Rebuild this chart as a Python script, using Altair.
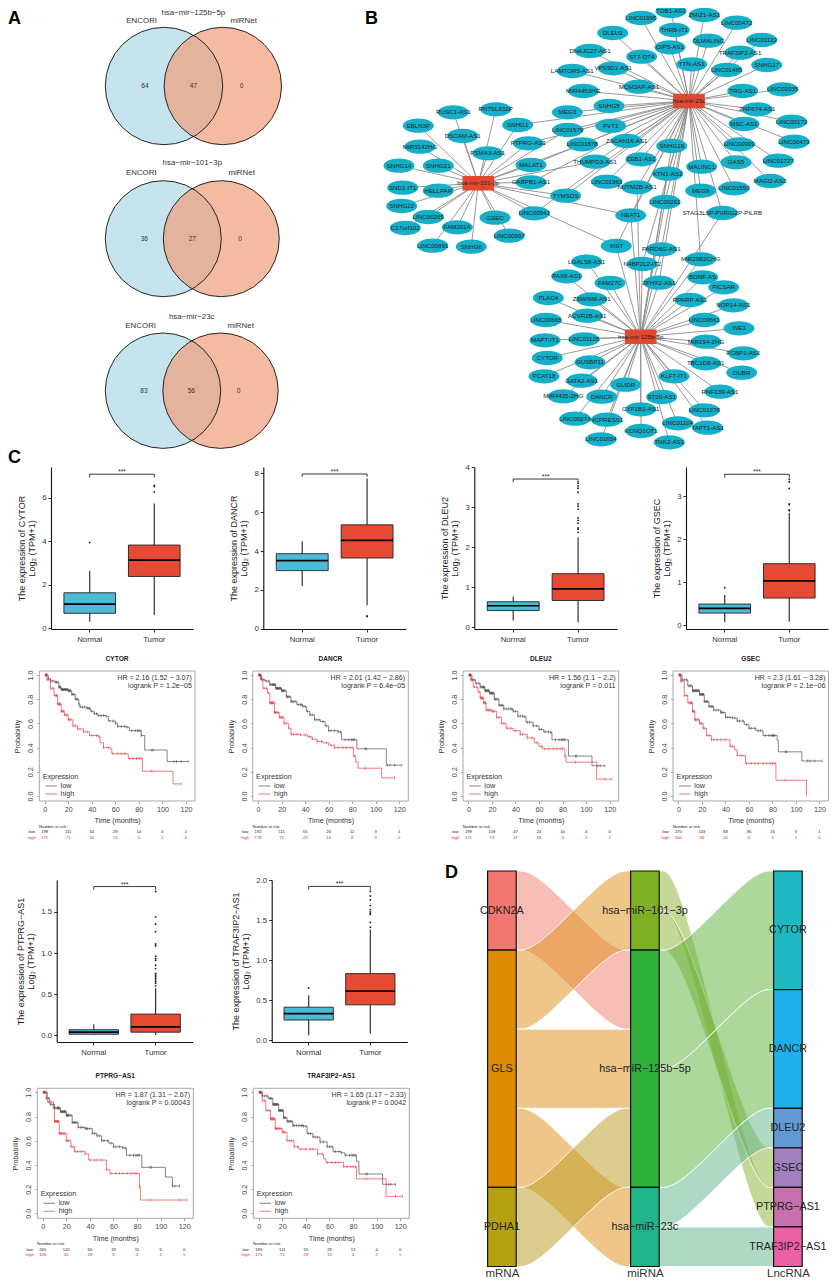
import altair as alt
import pandas as pd

W, H = 821, 1272
FONT = "Liberation Sans"
M = "\u2212"

# ---------- panel A ----------
VENN_TITLES = [f"hsa{M}mir{M}125b{M}5p", f"hsa{M}mir{M}101{M}3p", f"hsa{M}mir{M}23c"]
VENN_TITLE_X = [193.3, 192.3, 191.7]
VENN_TITLE_Y = [13, 163.3, 316.7]
VENN_SET_Y = [21, 173, 326]
VENN_ENCORI_X = [141.7, 141.3, 140.7]
VENN_MIRNET_X = [243.7, 241.7, 240.7]
VENN_CY = [86, 238.7, 390.7]
VENN_C1 = [164, 163.3, 163]
VENN_C2 = [222.8, 221.3, 220.5]
VENN_D = [117.4, 116, 115.4]
VENN_COUNTS = [[64, 47, 0], [36, 27, 0], [83, 56, 0]]
VENN_COUNT_X = [[145, 193.3, 241.7], [144.3, 192.3, 240], [144, 191.3, 238.7]]

# ---------- panel B ----------
NODE_NAMES = ["LINC01995","TOB1-AS1","ZMIZ1-AS1","LINC00472","DLEU2","THRB-IT1","OLMALINC","LINC01122","DNAJC27-AS1","OIP5-AS1",
"TRAF3IP2-AS1","ST7-OT4","SNHG17","TTN-AS1","LINC01485","LAMTOR5-AS1","VPS9D1-AS1","MCM3AP-AS1","MIR4453HG","TRG-AS1",
"LINC02035","RUSC1-AS1","RN7SL832P","MEG3","SNHG5","ZNF674-AS1","SNHG1","EBLN3P","LINC01579","PVT1",
"MSC-AS1","LINC00173","DSCAM-AS1","MIR3142HG","PTPRG-AS1","LINC01878","ZSCAN16-AS1","SNHG16","LINC00909","LINC00473",
"PSMA3-AS1","THUMPD3-AS1","ZEB1-AS1","GAS5","LINC01727","MALINC1","SNHG14","SNHG21","MALAT1","GABPB1-AS1",
"SND1-IT1","HELLPAR","TYMSOS","SNHG22","LINC00943","LINC00265","GSEC","C17orf102","FAM201A","LINC00997",
"LINC00891","SNHG6","LINC01963","KTN1-AS1","NUTM2B-AS1","MEG8","LINC01550","MAGI2-AS3","LINC00261","STAG3L5P-PVRIG2P-PILRB",
"NEAT1","XIST","PARD6G-AS1","MIR29B2CHG","LGALS8-AS1","N4BP2L2-IT2","BDNF-AS","ZFHX2-AS1","FAM27C","PICSAR",
"PAX8-AS1","PLAC4","ZSWIM8-AS1","RPARP-AS1","NOP14-AS1","ACVR2B-AS1","LINC00665","LINC00661","INE1","LINC01128",
"MAPT-IT1","MIR194-2HG","PCBP1-AS1","CYTOR","GUSBP11","TBC1D8-AS1","DUBR","PCAT18","KLF7-IT1","GATA2-AS1",
"GLIDR","RNF139-AS1","MIR4435-2HG","DANCR","ST20-AS1","CYP1B1-AS1","LINC01278","LINC00273","NCPRESS1","LINC01104",
"TAPT1-AS1","KCNQ1OT1","LINC01654","TNK2-AS1"]
NODE_X = [641,671,704.3,736.7,612.7,674.3,708.3,761.7,590,670,
740,641.7,766.7,691.7,726.7,572.3,613.3,639,583.3,742.7,
782.7,453.3,495.7,567.3,609,757.3,517.7,418.3,567.7,610.7,
744,791.7,462.7,420,528.3,582.3,626.7,671.7,739.3,794,
487.7,595,641,736,778.3,701.7,399,438.3,531,531,
402.7,438.3,565.7,401.7,534.3,428.3,495,405.3,457.3,509.3,
432.7,471.3,606.7,667.7,637,700.7,734,770,665,722.3,
630.7,616.3,661.3,700.7,586.7,642.3,702.7,659,610,723.7,
566.7,548.3,591.7,690,733.3,587.3,546,704.3,739,584,
545,706,743.3,547.3,590,705.7,741.7,544,674,581.7,
625.7,720,563.3,601.7,661.7,640.7,704.3,575,606.7,677.7,
707.7,641,601,669.3]
NODE_Y = [18,11,15,22.7,33,30,40.7,40,51,47.3,
52.7,56.7,65,64.3,70,71,68.3,86.7,91,91,
89.3,112.3,109.3,112.3,106,109.3,125,125.7,130,126,
124,121.7,136,146.7,143.3,144.3,141,146,144.3,141.7,
153.3,161.7,159.3,162.3,160.7,166.7,165.7,165.7,165,182.3,
187.7,190.7,195.7,206,213.3,217,217.7,228,227.3,235.7,
245.7,246.7,181.7,173.7,187.3,190.7,188.3,181,202,213,
215.3,246,249.3,259.3,261.7,264,277.3,282.7,283,287.3,
276.3,298,299.3,300,305.3,315.7,320,320,328.3,339.3,
340.3,341.7,353.3,358,362.3,363.3,372.7,376.3,376.3,380.7,
384.7,391.7,396.3,396.7,397,409.3,410.3,418.7,419.7,423.3,
427.7,431,439.3,442.3]
HUB_NAMES = [f"hsa-mir-23c", f"hsa-mir-101-3p", f"hsa-mir-125b-5p"]
HUB_X = [689, 478.3, 640.7]
HUB_Y = [101, 183.3, 336.7]
EDGES_23C = ["LINC01995","TOB1-AS1","ZMIZ1-AS1","LINC00472","DLEU2","THRB-IT1","OLMALINC","LINC01122","DNAJC27-AS1","OIP5-AS1",
"TRAF3IP2-AS1","ST7-OT4","SNHG17","TTN-AS1","LINC01485","LAMTOR5-AS1","VPS9D1-AS1","MCM3AP-AS1","MIR4453HG","TRG-AS1",
"LINC02035","MEG3","SNHG5","ZNF674-AS1","SNHG1","LINC01579","PVT1","MSC-AS1","LINC00173","PTPRG-AS1","LINC01878","ZSCAN16-AS1",
"SNHG16","LINC00909","LINC00473","THUMPD3-AS1","ZEB1-AS1","GAS5","LINC01727","MALINC1","MALAT1","GABPB1-AS1","TYMSOS","LINC01963",
"KTN1-AS1","NUTM2B-AS1","MEG8","LINC01550","MAGI2-AS3","LINC00261","STAG3L5P-PVRIG2P-PILRB","NEAT1","XIST","PARD6G-AS1",
"MIR29B2CHG","N4BP2L2-IT2","ZFHX2-AS1","LINC00943"]
EDGES_101 = ["RUSC1-AS1","RN7SL832P","SNHG1","EBLN3P","DSCAM-AS1","MIR3142HG","PTPRG-AS1","PSMA3-AS1","SNHG14","SNHG21","MALAT1",
"GABPB1-AS1","SND1-IT1","HELLPAR","TYMSOS","SNHG22","LINC00943","LINC00265","GSEC","C17orf102","FAM201A","LINC00997","LINC00891",
"SNHG6","THUMPD3-AS1","LINC01878","NEAT1","XIST","LINC01579"]
EDGES_125B = ["LGALS8-AS1","PAX8-AS1","FAM27C","ZFHX2-AS1","BDNF-AS","PICSAR","PLAC4","ZSWIM8-AS1","RPARP-AS1","NOP14-AS1","ACVR2B-AS1",
"LINC00665","LINC00661","INE1","LINC01128","MAPT-IT1","MIR194-2HG","PCBP1-AS1","CYTOR","GUSBP11","TBC1D8-AS1","DUBR","PCAT18","KLF7-IT1",
"GATA2-AS1","GLIDR","RNF139-AS1","MIR4435-2HG","DANCR","ST20-AS1","CYP1B1-AS1","LINC01278","LINC00273","NCPRESS1","LINC01104","TAPT1-AS1",
"KCNQ1OT1","LINC01654","TNK2-AS1","NEAT1","XIST","MIR29B2CHG","STAG3L5P-PVRIG2P-PILRB","PARD6G-AS1","N4BP2L2-IT2","LINC00261","SNHG16",
"KTN1-AS1","NUTM2B-AS1"]

# ---------- panel C: boxplots ----------
GROUPS = ["Normal", "Tumor"]
BOX_GENES = ["CYTOR", "DANCR", "DLEU2", "GSEC", f"PTPRG{M}AS1", f"TRAF3IP2{M}AS1"]
BOX_LOW = [[0.3, 0.61], [2.19, 1.2], [0.17, 0.13], [0.07, 0.08], [0.0, 0.0], [0.06, 0.08]]
BOX_Q1 = [[0.69, 2.38], [2.99, 3.64], [0.42, 0.67], [0.28, 0.63], [0.01, 0.035], [0.25, 0.44]]
BOX_MED = [[1.11, 3.13], [3.5, 4.55], [0.54, 0.96], [0.39, 1.03], [0.035, 0.10], [0.33, 0.61]]
BOX_Q3 = [[1.63, 3.82], [3.86, 5.35], [0.64, 1.34], [0.49, 1.43], [0.065, 0.255], [0.41, 0.83]]
BOX_HIGH = [[2.63, 5.73], [4.5, 7.74], [0.77, 2.25], [0.7, 2.61], [0.13, 0.57], [0.56, 1.38]]
OUT_NORMAL = [[3.94], [], [], [0.87], [], [0.65]]
OUT_TUMOR = [[6.26, 6.5, 6.56], [0.62, 0.65],
    [2.37,2.45,2.48,2.6,2.67,2.73,2.95,3.02,3.08,3.37,3.47,3.53,3.6],
    [2.66,2.68,2.8,2.82,3.18,3.33,3.39],
    [0.6,0.63,0.65,0.67,0.69,0.71,0.73,0.75,0.81,0.85,0.91,0.93,0.96,1.085,1.11,1.26,1.35,1.44,1.75],
    [1.41,1.47,1.57,1.58,1.6,1.63,1.68,1.75,1.8,1.86]]
BRACKET_TOP = [7.07, 7.97, 3.7, 3.51, 1.81, 1.92]
BRACKET_LOW = [6.92, 7.83, 3.62, 3.43, 1.77, 1.88]
BOX_DOMAIN = [[-0.03, 7.4], [-0.02, 8.33], [-0.04, 4.0], [-0.09, 3.68], [-0.085, 1.89], [-0.025, 2.0]]
BOX_TICKS = [[0,2,4,6], [0,2,4,6,8], [0,1,2,3,4], [0,1,2,3], [0,0.5,1,1.5], [0,0.5,1,1.5,2]]
BOX_FORMAT = ["d", "d", "d", "d", ".1f", ".1f"]
BOX_FRAME = [(51,193,467,629), (263.3,406,467,629), (474.3,617,467,629), (686,828,467,629), (56.7,192.7,880,1042), (271.7,407.3,880,1042)]

# ---------- panel C: survival ----------
KM_GENES = BOX_GENES
KM_FRAME = [(39.3,195,671,801), (252.7,408.3,671,801), (463,618.7,671,801), (673,828.5,671,801), (37.3,193.3,1088.3,1218.3), (253.3,409.3,1088.3,1218.3)]
HR_TEXT = [f"HR = 2.16 (1.52 {M} 3.07)", f"HR = 2.01 (1.42 {M} 2.86)", f"HR = 1.56 (1.1 {M} 2.2)", f"HR = 2.3 (1.61 {M} 3.28)", f"HR = 1.87 (1.31 {M} 2.67)", f"HR = 1.65 (1.17 {M} 2.33)"]
P_TEXT = ["logrank P = 1.2e\u221205", "logrank P = 6.4e\u221205", "logrank P = 0.011", "logrank P = 2.1e\u221206", "logrank P = 0.00043", "logrank P = 0.0042"]
RISK_TIMES = [0, 20, 40, 60, 80, 100, 120]
RISK_LOW = [[198,111,54,29,14,4,1],[192,111,55,26,11,3,1],[199,109,47,24,10,4,0],[270,143,68,36,16,5,1],[265,142,66,33,15,5,0],[195,111,55,29,13,4,0]]
RISK_HIGH = [[172,71,30,13,5,2,0],[178,71,29,16,8,3,0],[171,73,37,18,9,2,1],[100,39,16,6,3,1,0],[105,40,18,9,4,1,1],[175,71,29,13,6,2,1]]
KM_LOW = [
 [(0,1),(3,.97),(5,.95),(9,.94),(12,.90),(14,.88),(20,.87),(23,.84),(26,.80),(29,.76),(30,.735),(36,.725),(39,.70),(42,.68),(45,.665),(52,.66),(54,.62),(60,.60),(62,.575),(69,.57),(72,.54),(80,.54),(82,.50),(85,.38),(104,.285),(122,.285)],
 [(0,1),(3,.96),(6,.95),(10,.92),(15,.89),(20,.87),(24,.82),(28,.78),(33,.755),(38,.74),(41,.70),(44,.67),(48,.63),(53,.615),(57,.58),(60,.54),(68,.53),(71,.465),(84,.39),(109,.255),(122,.255)],
 [(0,1),(3,.96),(6,.93),(10,.90),(14,.87),(18,.85),(22,.80),(26,.75),(30,.72),(38,.70),(42,.66),(47,.655),(49,.61),(55,.58),(60,.55),(64,.53),(70,.525),(71,.465),(85,.33),(105,.25),(116,.25)],
 [(0,1),(3,.96),(8,.91),(12,.87),(18,.84),(22,.78),(26,.74),(30,.71),(36,.69),(40,.65),(46,.645),(50,.62),(56,.59),(60,.56),(66,.54),(72,.50),(84,.46),(85,.365),(105,.29),(122,.29)],
 [(0,1),(3,.95),(6,.90),(10,.87),(15,.84),(20,.81),(25,.75),(30,.71),(36,.70),(42,.66),(46,.64),(50,.60),(56,.58),(60,.55),(68,.54),(71,.48),(84,.38),(104,.30),(110,.225),(116,.225)],
 [(0,1),(3,.97),(8,.95),(12,.90),(17,.85),(21,.79),(24,.76),(29,.725),(38,.72),(41,.66),(46,.63),(52,.59),(58,.55),(63,.51),(70,.50),(73,.48),(83,.43),(85,.325),(105,.24),(116,.24)],
]
KM_HIGH = [
 [(0,1),(2,.96),(5,.89),(8,.83),(11,.76),(14,.70),(17,.67),(20,.63),(24,.58),(28,.555),(33,.53),(38,.50),(46,.49),(47,.44),(50,.40),(56,.39),(57,.35),(70,.345),(71,.31),(83,.205),(109,.10),(116,.10)],
 [(0,1),(2,.97),(4,.89),(8,.85),(10,.77),(14,.69),(18,.65),(22,.60),(26,.56),(28,.51),(36,.505),(42,.49),(46,.47),(50,.45),(55,.44),(60,.42),(65,.40),(81,.33),(83,.28),(85,.23),(105,.15),(116,.15)],
 [(0,1),(2,.96),(4,.90),(8,.86),(10,.81),(13,.77),(15,.71),(20,.70),(24,.65),(28,.60),(32,.56),(38,.54),(44,.51),(50,.48),(56,.44),(60,.41),(63,.39),(82,.33),(83,.28),(109,.14),(122,.14)],
 [(0,1),(2,.95),(5,.83),(8,.77),(12,.70),(14,.63),(18,.60),(21,.56),(24,.50),(28,.465),(44,.41),(48,.38),(50,.335),(57,.27),(83,.13),(109,0)],
 [(0,1),(4,.92),(9,.87),(10,.76),(14,.66),(20,.60),(24,.55),(27,.51),(36,.49),(39,.44),(54,.36),(57,.33),(82,.22),(83,.11),(122,.11)],
 [(0,1),(3,.93),(6,.85),(10,.78),(14,.70),(20,.67),(24,.60),(30,.55),(34,.53),(50,.49),(55,.45),(57,.42),(72,.385),(83,.285),(108,.14),(122,.14)],
]
CENSOR_LOW = [1,1.5,2,3,5,7,9,10,11,12,12.5,13,13.5,14,14.5,15,15.5,16,16.5,17,17.5,18,18.5,19,19.5,20,20.5,21,21.5,22,23,24,25,26,27,28,29,30,32,34,36,37,38,40,42,44,46,48,50,52,55,58,60,62,65,68,70,74,77,79,80,81,82,91,92,110,112,116,122]
CENSOR_HIGH = [0.5,1,1.5,2,3,5,7,9,10,10.5,11,11.5,12,12.5,13,13.5,14,14.5,15,16,17,18,19,20,21,22,24,26,28,30,33,36,40,44,46,50,54,58,62,65,68,72,75,78,80,82,91,116,122]

# ---------- panel D ----------
COL_LABELS = ["mRNA", "miRNA", "LncRNA"]
STRATA_NAMES = ["CDKN2A","GLS","PDHA1", f"hsa{M}miR{M}101{M}3p", f"hsa{M}miR{M}125b{M}5p", f"hsa{M}miR{M}23c",
                "CYTOR","DANCR","DLEU2","GSEC",f"PTPRG{M}AS1",f"TRAF3IP2{M}AS1"]
STRATA_COL = [1,1,1,2,2,2,3,3,3,3,3,3]
STRATA_Y0 = [0,2,8,0,2,8,0,3,6,7,8,9]
STRATA_Y1 = [2,8,10,2,8,10,3,6,7,8,9,10]
STRATA_COLORS = ["#f07670","#de8c04","#b5a010","#7fb024","#2fb03a","#20b48a","#1db8c1","#1eb0e8","#6298d4","#a080bd","#c86fae","#ec60a4"]
FLOW_FROM_COL = [1,1,1,1,1, 2,2,2,2,2,2]
FLOW_Y_LEFT = [0,2,4,6,8, 0,1,2,5,8,9]
FLOW_Y_RIGHT = [2,0,4,8,6, 8,7,0,3,6,9]
FLOW_HEIGHT = [2,2,2,2,2, 1,1,3,3,1,1]
FLOW_COLORS = ["#f17b69","#dd8d15","#dd8d15","#dd8d15","#b99b1d","#8baf33","#8baf33","#5daf37","#5daf37","#5db58b","#5db58b"]


def sx(a, b, domain, **k):
    return alt.Scale(domain=domain, range=[a - 8, b - 8], nice=False, zero=False, **k)


def sy(bottom, top, domain):
    return alt.Scale(domain=domain, range=[bottom - 8, top - 8], nice=False, zero=False)


PX = sx(8, 829, [8, 829])
PY = alt.Scale(domain=[8, 1280], range=[0, H], nice=False, zero=False)


def page_text(df, size, color="#222", align="center", weight="normal"):
    return alt.Chart(df).mark_text(font=FONT, fontSize=size, color=color, align=align, baseline="middle",
                                   fontWeight=weight).encode(
        x=alt.X("x:Q", scale=PX, axis=None), y=alt.Y("y:Q", scale=PY, axis=None), text="t:N")


venn_rows = []
for i in range(3):
    venn_rows.append(dict(x=VENN_C1[i], y=VENN_CY[i], s=VENN_D[i] ** 2, set="a"))
    venn_rows.append(dict(x=VENN_C2[i], y=VENN_CY[i], s=VENN_D[i] ** 2, set="b"))
venn = pd.DataFrame(venn_rows)


def circles(df, **mk):
    return alt.Chart(df).mark_point(shape="circle", **mk).encode(
        x=alt.X("x:Q", scale=PX, axis=None), y=alt.Y("y:Q", scale=PY, axis=None),
        size=alt.Size("s:Q", scale=None, legend=None))


venn_layers = [
    circles(venn[venn.set == "a"], filled=True, fill="#add8e6", fillOpacity=0.7, strokeOpacity=0, opacity=1),
    circles(venn[venn.set == "b"], filled=True, fill="#f19e7b", fillOpacity=0.7, strokeOpacity=0, opacity=1),
    circles(venn, filled=False, stroke="#111", strokeWidth=0.9, opacity=1),
]
vt = []
vc = []
for i in range(3):
    vt.append(dict(x=VENN_TITLE_X[i], y=VENN_TITLE_Y[i], t=VENN_TITLES[i]))
    vt.append(dict(x=VENN_ENCORI_X[i], y=VENN_SET_Y[i], t="ENCORI"))
    vt.append(dict(x=VENN_MIRNET_X[i], y=VENN_SET_Y[i], t="miRNet"))
    for c, xv in zip(VENN_COUNTS[i], VENN_COUNT_X[i]):
        vc.append(dict(x=xv, y=VENN_CY[i], t=str(c)))
venn_layers += [page_text(pd.DataFrame(vt), 7.9, "#333"), page_text(pd.DataFrame(vc), 6.6, "#333")]
letters = page_text(pd.DataFrame(dict(x=[8, 365, 8, 445], y=[19, 19, 458, 873], t=["A", "B", "C", "D"])), 18, "#000", "left", "bold")

pos = {n: (x, y) for n, x, y in zip(NODE_NAMES, NODE_X, NODE_Y)}
edge_rows = []
k = 0
for hub, members in enumerate([EDGES_23C, EDGES_101, EDGES_125B]):
    for m in members:
        edge_rows.append(dict(e=k, o=0, x=pos[m][0], y=pos[m][1]))
        edge_rows.append(dict(e=k, o=1, x=HUB_X[hub], y=HUB_Y[hub]))
        k += 1
edges = alt.Chart(pd.DataFrame(edge_rows)).mark_line(color="#8c8c8c", strokeWidth=0.9).encode(
    x=alt.X("x:Q", scale=PX, axis=None), y=alt.Y("y:Q", scale=PY, axis=None), detail="e:N", order="o:Q")
nodes_df = pd.DataFrame(dict(x=NODE_X, y=NODE_Y, t=NODE_NAMES))
hubs_df = pd.DataFrame(dict(x=HUB_X, y=HUB_Y, t=HUB_NAMES))
ELLIPSE = "M-1,0A1,0.46 0 1,1 1,0A1,0.46 0 1,1 -1,0Z"
RECT = "M-1,-0.46H1V0.46H-1Z"
nodes = alt.Chart(nodes_df).mark_point(shape=ELLIPSE, size=961, filled=True, fill="#14afc9", strokeOpacity=0, opacity=1).encode(
    x=alt.X("x:Q", scale=PX, axis=None), y=alt.Y("y:Q", scale=PY, axis=None))
hubs = alt.Chart(hubs_df).mark_point(shape=RECT, size=1000, filled=True, fill="#e0492f", strokeOpacity=0, opacity=1).encode(
    x=alt.X("x:Q", scale=PX, axis=None), y=alt.Y("y:Q", scale=PY, axis=None))
page = alt.layer(*venn_layers, edges, nodes, hubs,
                 page_text(nodes_df, 6.2, "#222"), page_text(hubs_df, 6.2, "#222"), letters)


def box_panel(i):
    L, R, T, B = BOX_FRAME[i]
    xs = alt.Scale(type="band", domain=GROUPS, range=[L - 8, R - 8], paddingInner=0.2, paddingOuter=0.2)
    ys = sy(B, T, BOX_DOMAIN[i])
    step = (R - L) / 2.2
    df = pd.DataFrame(dict(g=GROUPS, lo=BOX_LOW[i], q1=BOX_Q1[i], med=BOX_MED[i], q3=BOX_Q3[i], hi=BOX_HIGH[i],
                           c=["#4bbbd8", "#e64a33"]))
    out = pd.DataFrame(dict(g=["Normal"] * len(OUT_NORMAL[i]) + ["Tumor"] * len(OUT_TUMOR[i]), v=OUT_NORMAL[i] + OUT_TUMOR[i]))
    br = pd.DataFrame(dict(g=["Normal", "Normal", "Tumor", "Tumor"],
                           v=[BRACKET_LOW[i], BRACKET_TOP[i], BRACKET_TOP[i], BRACKET_LOW[i]], o=[0, 1, 2, 3]))
    xa = alt.Axis(orient="bottom", offset=B - 8 - H, title=None, labelAngle=0, labelFontSize=7.8, labelColor="#333",
                  labelFont=FONT, domainColor="#111", domainWidth=1.1, tickColor="#111", tickSize=3, tickWidth=0.9, grid=False, labelPadding=3)
    ya = alt.Axis(orient="left", offset=-(L - 8), values=BOX_TICKS[i], format=BOX_FORMAT[i], grid=False,
                  title=[f"The expression of {BOX_GENES[i]}", "Log\u2082 (TPM+1)"], titleFontSize=9, titleFontWeight="normal",
                  titleFont=FONT, titleColor="#222", titleLineHeight=10, titlePadding=5,
                  labelFontSize=7.8, labelColor="#333", labelFont=FONT, domainColor="#111", domainWidth=1.1,
                  tickColor="#111", tickSize=3, tickWidth=0.9, labelFlush=False, labelOverlap=False)
    X0 = alt.X("g:N", scale=xs)
    whisk = alt.Chart(df).mark_rule(color="#333", strokeWidth=1.2).encode(
        x=alt.X("g:N", scale=xs, axis=xa), y=alt.Y("lo:Q", scale=ys, axis=ya), y2="hi:Q")
    bx = alt.Chart(df).mark_bar(stroke="#222", strokeWidth=0.9).encode(
        x=X0, y=alt.Y("q1:Q", scale=ys), y2="q3:Q", fill=alt.Fill("c:N", scale=None))
    med = alt.Chart(df).mark_bar(stroke="#000", strokeWidth=1.7).encode(
        x=X0, y=alt.Y("med:Q", scale=ys), y2="med:Q")
    pts = alt.Chart(out).mark_point(filled=True, color="#222", size=3.5, opacity=1).encode(
        x=X0, y=alt.Y("v:Q", scale=ys))
    line = alt.Chart(br).mark_line(color="#222", strokeWidth=0.9).encode(
        x=X0, y=alt.Y("v:Q", scale=ys), order="o:Q")
    star = alt.Chart(pd.DataFrame(dict(g=["Normal"], v=[BRACKET_TOP[i]], t=["***"]))).mark_text(
        font=FONT, fontSize=6.5, color="#222", dx=step / 2, dy=-2, baseline="middle").encode(
        x=X0, y=alt.Y("v:Q", scale=ys), text="t:N")
    return alt.layer(whisk, bx, med, pts, line, star)


def step_at(curve, t):
    v = curve[0][1]
    for a, b in curve:
        if a <= t:
            v = b
    return v


def km_panel(i):
    L, R, T, B = KM_FRAME[i]
    xs = sx(L, R, [-4.6, 127.7])
    ys = sy(B, T, [-0.041, 1.033])
    gx = alt.X("t:Q", scale=xs)
    gy = alt.Y("p:Q", scale=ys)
    frame = alt.Chart(pd.DataFrame(dict(a=[-4.6], b=[127.7], c=[-0.041], d=[1.033]))).mark_rect(
        fillOpacity=0, stroke="#a8a8a8", strokeWidth=1).encode(
        x=alt.X("a:Q", scale=xs, axis=alt.Axis(
            orient="bottom", offset=B - 8 - H, values=RISK_TIMES, format="d", title="Time (months)", domain=False, grid=False,
            titleFontSize=7.2, titleFont=FONT, titleFontWeight="normal", titleColor="#333", titlePadding=4,
            labelFontSize=7.2, labelFont=FONT, labelColor="#444", tickColor="#666", tickSize=2.5, tickWidth=0.6, labelPadding=2,
            labelFlush=False)),
        x2="b:Q",
        y=alt.Y("c:Q", scale=ys, axis=alt.Axis(
            orient="left", offset=-(L - 8), values=[0, 0.2, 0.4, 0.6, 0.8, 1.0], format=".1f", title="Probability", domain=False, grid=False,
            titleFontSize=7.2, titleFont=FONT, titleFontWeight="normal", titleColor="#333", titlePadding=5,
            labelFontSize=7.2, labelFont=FONT, labelColor="#444", labelAngle=-90, labelAlign="center", labelBaseline="bottom",
            tickColor="#666", tickSize=2.5, tickWidth=0.6, labelPadding=2, labelFlush=False)),
        y2="d:Q")
    out = [frame]
    for curve, cens, col in ((KM_LOW[i], CENSOR_LOW, "#333333"), (KM_HIGH[i], CENSOR_HIGH, "#e8222c")):
        dfl = pd.DataFrame(curve, columns=["t", "p"])
        out.append(alt.Chart(dfl).mark_line(interpolate="step-after", stroke=col, strokeWidth=0.6).encode(x=gx, y=gy))
        ct = [c for c in cens if c <= curve[-1][0]]
        dfc = pd.DataFrame(dict(t=ct, p=[step_at(curve, c) for c in ct]))
        out.append(alt.Chart(dfc).mark_point(shape="M0,-1L0,1", size=8, filled=False, stroke=col, strokeWidth=0.5, opacity=1).encode(x=gx, y=gy))

    def text(rows, size, color="#333", align="center", weight="normal"):
        return alt.Chart(pd.DataFrame(rows, columns=["t", "p", "s"])).mark_text(
            font=FONT, fontSize=size, color=color, align=align, baseline="middle", fontWeight=weight).encode(x=gx, y=gy, text="s:N")

    out.append(text([(61.5, 1.132, KM_GENES[i])], 6.6, "#222", "center", "bold"))
    out.append(text([(125, 0.978, HR_TEXT[i]), (125, 0.908, P_TEXT[i])], 7.1, "#333", "right"))
    out.append(text([(-1.7, 0.16, "Expression")], 7.2, "#333", "left"))
    out.append(text([(13.5, 0.083, "low"), (13.5, 0.017, "high")], 7.2, "#333", "left"))
    out.append(alt.Chart(pd.DataFrame(dict(t=[0.5], t2=[10.5], p=[0.083]))).mark_rule(stroke="#333", strokeWidth=0.6).encode(x=gx, x2="t2:Q", y=gy))
    out.append(alt.Chart(pd.DataFrame(dict(t=[0.5], t2=[10.5], p=[0.017]))).mark_rule(stroke="#e8222c", strokeWidth=0.6).encode(x=gx, x2="t2:Q", y=gy))
    out.append(text([(-4.8, -0.255, "Number at risk")], 4.2, "#222", "left"))
    out.append(text([(-11, -0.30, "low")], 4.2, "#222", "center"))
    out.append(text([(-11, -0.345, "high")], 4.2, "#e8222c", "center"))
    out.append(text([(a, -0.30, str(b)) for a, b in zip(RISK_TIMES, RISK_LOW[i])], 4.2, "#222"))
    out.append(text([(a, -0.345, str(b)) for a, b in zip(RISK_TIMES, RISK_HIGH[i])], 4.2, "#e8222c"))
    return alt.layer(*out)


def sankey():
    xs = sx(473.3, 816.5, [0.8, 3.2])
    bottom = 1266.5
    ys = sy(bottom, 871, [10, 0])
    half = 0.1
    rows = []
    for f, (c, a, b, h, col) in enumerate(zip(FLOW_FROM_COL, FLOW_Y_LEFT, FLOW_Y_RIGHT, FLOW_HEIGHT, FLOW_COLORS)):
        x0, x1 = c + half, c + 1 - half
        inset = 0.18 * (x1 - x0)
        for xv, yv in [(x0, a), (x0 + inset, a), (x1 - inset, b), (x1, b)]:
            rows.append(dict(f=f, x=xv, y0=yv, y1=yv + h, c=col))
    flows = alt.Chart(pd.DataFrame(rows)).mark_area(interpolate="basis", fillOpacity=0.5, stroke="white", strokeWidth=0.9).encode(
        x=alt.X("x:Q", scale=xs, axis=alt.Axis(
            orient="bottom", offset=bottom - 8 - H, values=[1, 2, 3], labelExpr=f"{COL_LABELS}[datum.value-1]", title=None,
            domain=False, ticks=False, grid=False, labelFontSize=11.5, labelFont=FONT, labelColor="#333", labelPadding=1)),
        y=alt.Y("y0:Q", scale=ys, axis=None), y2="y1:Q", detail="f:N", fill=alt.Fill("c:N", scale=None))
    st = pd.DataFrame(dict(n=STRATA_NAMES, a=[c - half for c in STRATA_COL], b=[c + half for c in STRATA_COL], c=STRATA_COL,
                           y0=STRATA_Y0, y1=STRATA_Y1, m=[(p + q) / 2 for p, q in zip(STRATA_Y0, STRATA_Y1)], col=STRATA_COLORS))
    X0 = alt.X("a:Q", scale=xs)
    rect = alt.Chart(st).mark_rect(stroke="#111", strokeWidth=1.2).encode(
        x=X0, x2="b:Q", y=alt.Y("y0:Q", scale=ys, axis=None), y2="y1:Q",
        fill=alt.Fill("col:N", scale=None))
    lab = alt.Chart(st).mark_text(font=FONT, fontSize=10.8, color="#222", baseline="middle").encode(
        x=alt.X("c:Q", scale=xs), y=alt.Y("m:Q", scale=ys, axis=None), text="n:N")
    return alt.layer(flows, rect, lab)


panels = [page] + [box_panel(i) for i in range(6)] + [km_panel(i) for i in range(6)] + [sankey()]
chart = (alt.layer(*panels)
         .resolve_scale(x="independent", y="independent")
         .properties(width=W, height=H, padding=0, autosize=alt.AutoSizeParams(type="none"), background="white")
         .configure_view(stroke=None))
chart.save("out.html", embed_options={"renderer": "svg", "actions": False})
